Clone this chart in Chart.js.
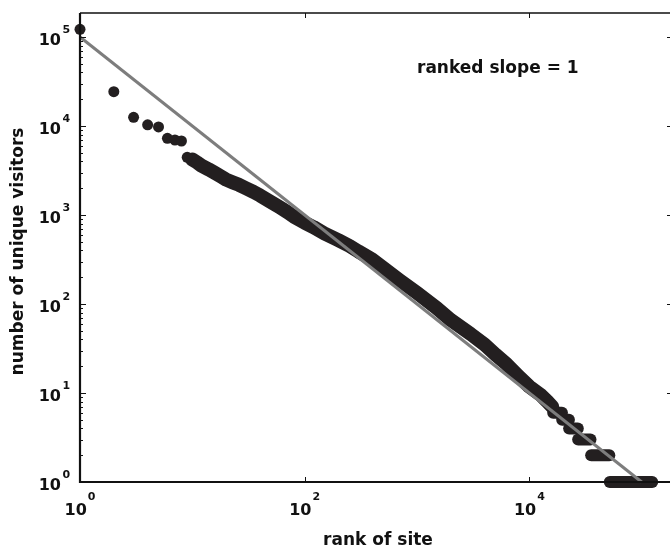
<!DOCTYPE html>
<html>
<head>
<meta charset="utf-8">
<script src="https://cdn.jsdelivr.net/npm/chart.js@4.4.1/dist/chart.umd.min.js"></script>
<style>
  html, body { margin: 0; padding: 0; background: #fff; overflow: hidden; }
  #wrap { width: 680px; height: 547px; }
</style>
</head>
<body>
<div id="wrap"><canvas id="rankChart"></canvas></div>
<script>
// biggest sites, drawn as single dots
const topRank = [1, 2, 3, 4, 5, 6, 7, 8, 9];
const topVisitors = [122000, 24300, 12500, 10300, 9750, 7270, 6960, 6780, 4450];

// the rest of the ranking is so dense it reads as one thick band
const bandRank = [10, 11, 12, 14, 16, 18, 20, 23, 26, 30, 35, 40, 50, 60, 70, 80, 100, 120, 150,
  200, 250, 300, 400, 500, 700, 1000, 1500, 2000, 3000, 4000, 5000, 6300, 8000, 10000, 12500, 14500, 16000];
const bandVisitors = [4200, 3900, 3600, 3250, 2950, 2700, 2500, 2320, 2180, 2000, 1820, 1660, 1400, 1220, 1080, 960, 820, 730, 620,
  520, 450, 390, 315, 255, 185, 133, 90, 66, 46, 35, 27, 21, 15.5, 11.8, 9.6, 8, 7];

// tail: small integer counts, one run of ranks per count
const stepVisitors = [6, 5, 4, 3, 2, 1];
const stepFirstRank = [16300, 19600, 22600, 27200, 35500, 52000];
const stepLastRank = [19500, 22500, 27000, 35000, 51500, 124000];

// slope -1 reference line
const fitRank = [1, 100000];
const fitVisitors = [100000, 1];

const xExponents = [0, 2, 4];
const yExponents = [0, 1, 2, 3, 4, 5];

const DOT = '#231f20';
const FONT = '"DejaVu Sans", "Liberation Sans", sans-serif';

const pts = (xs, ys) => xs.map((r, i) => ({ x: r, y: ys[i] }));

const stepSets = stepVisitors.map((v, i) => ({
  data: [{ x: stepFirstRank[i], y: v }, { x: stepLastRank[i], y: v }],
  showLine: true,
  borderColor: DOT,
  borderWidth: 12,
  borderCapStyle: 'round',
  pointRadius: 0,
  clip: false,
  order: 2
}));

// axes box, inward ticks and 10^n labels
const frame = {
  id: 'frame',
  afterDraw(chart) {
    const { ctx, chartArea: a, scales: { x, y } } = chart;
    ctx.save();
    ctx.strokeStyle = '#111';
    ctx.lineWidth = 1.3;
    ctx.beginPath();
    ctx.moveTo(a.left, a.top); ctx.lineTo(a.right, a.top); ctx.lineTo(a.right, a.bottom);
    ctx.stroke();
    ctx.lineWidth = 2.2;
    ctx.beginPath();
    ctx.moveTo(a.left, a.top); ctx.lineTo(a.left, a.bottom); ctx.lineTo(a.right, a.bottom);
    ctx.stroke();

    ctx.lineWidth = 1;
    for (let e = 0; e <= 5; e++) {
      for (let m = 1; m <= 9; m++) {
        const v = m * Math.pow(10, e);
        if (v > y.max) break;
        const py = Math.round(y.getPixelForValue(v)) + 0.5;
        const len = m === 1 ? 6 : 3;
        ctx.beginPath();
        ctx.moveTo(a.left, py); ctx.lineTo(a.left + len, py);
        ctx.moveTo(a.right, py); ctx.lineTo(a.right - len, py);
        ctx.stroke();
      }
    }
    xExponents.forEach(k => {
      const px = Math.round(x.getPixelForValue(Math.pow(10, k))) + 0.5;
      ctx.beginPath();
      ctx.moveTo(px, a.bottom); ctx.lineTo(px, a.bottom - 5);
      ctx.moveTo(px, a.top); ctx.lineTo(px, a.top + 5);
      ctx.stroke();
    });

    ctx.fillStyle = '#111';
    ctx.textBaseline = 'alphabetic';
    yExponents.forEach(k => {
      const py = y.getPixelForValue(Math.pow(10, k));
      ctx.font = 'bold 16px ' + FONT;
      ctx.textAlign = 'right';
      ctx.fillText('10', a.left - 19, py + 8);
      ctx.font = 'bold 11px ' + FONT;
      ctx.textAlign = 'left';
      ctx.fillText(String(k), a.left - 17.5, py - 4);
    });
    xExponents.forEach(k => {
      const px = x.getPixelForValue(Math.pow(10, k));
      ctx.font = 'bold 16px ' + FONT;
      const w1 = ctx.measureText('10').width;
      ctx.font = 'bold 11px ' + FONT;
      const w2 = ctx.measureText(String(k)).width;
      const left = px - (w1 + 1 + w2) / 2;
      ctx.textAlign = 'left';
      ctx.font = 'bold 16px ' + FONT;
      ctx.fillText('10', left, 515);
      ctx.font = 'bold 11px ' + FONT;
      ctx.fillText(String(k), left + w1 + 1, 500);
    });

    ctx.font = 'bold 17px ' + FONT;
    ctx.textAlign = 'left';
    ctx.fillText('ranked slope = 1', 417, 73);
    ctx.textAlign = 'center';
    ctx.fillText('rank of site', 378, 545);
    ctx.translate(23, (a.top + a.bottom) / 2 + 4);
    ctx.rotate(-Math.PI / 2);
    ctx.fillText('number of unique visitors', 0, 0);
    ctx.restore();
  }
};

new Chart(document.getElementById('rankChart'), {
  type: 'scatter',
  data: {
    datasets: [
      {
        data: pts(fitRank, fitVisitors),
        showLine: true,
        borderColor: '#7d7d7d',
        borderWidth: 3,
        pointRadius: 0,
        clip: false,
        order: 0
      },
      {
        data: pts(topRank, topVisitors),
        backgroundColor: DOT,
        borderWidth: 0,
        pointRadius: 5.5,
        clip: false,
        order: 1
      },
      {
        data: pts(bandRank, bandVisitors),
        showLine: true,
        borderColor: DOT,
        borderWidth: 14,
        borderCapStyle: 'round',
        borderJoinStyle: 'round',
        pointRadius: 0,
        clip: false,
        order: 2
      },
      ...stepSets
    ]
  },
  options: {
    responsive: true,
    maintainAspectRatio: false,
    animation: false,
    layout: { padding: { left: 80, top: 13, right: 7, bottom: 65 } },
    plugins: { legend: { display: false }, tooltip: { enabled: false } },
    scales: {
      x: { type: 'logarithmic', display: false, min: 1, max: 190000 },
      y: { type: 'logarithmic', display: false, min: 1, max: 186000 }
    }
  },
  plugins: [frame]
});
</script>
</body>
</html>
